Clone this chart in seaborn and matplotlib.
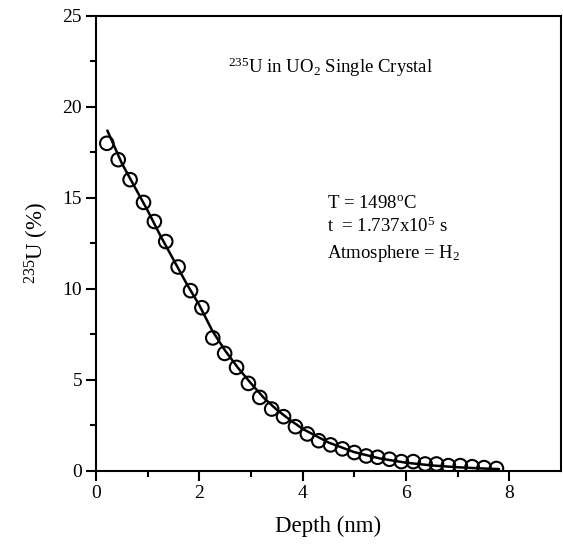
import numpy as np
import pandas as pd
import matplotlib
matplotlib.use("Agg")
import matplotlib.pyplot as plt
import seaborn as sns

# DATA

depth = [0.21, 0.43, 0.66, 0.92, 1.13, 1.35, 1.59, 1.83, 2.05, 2.26,
         2.49, 2.72, 2.95, 3.17, 3.40, 3.63, 3.86, 4.09, 4.31, 4.54,
         4.77, 5.00, 5.23, 5.45, 5.68, 5.91, 6.14, 6.37, 6.59, 6.82,
         7.05, 7.28, 7.51, 7.75]
u235 = [18.0, 17.1, 16.0, 14.75, 13.7, 12.6, 11.2, 9.9, 8.96, 7.3,
        6.45, 5.68, 4.8, 4.03, 3.39, 2.97, 2.42, 2.02, 1.65, 1.42,
        1.2, 1.0, 0.81, 0.74, 0.63, 0.5, 0.5, 0.37, 0.37, 0.28,
        0.28, 0.22, 0.17, 0.12]

fit_depth = [0.22, 0.5, 0.75, 1.0, 1.25, 1.5, 1.75, 2.0, 2.25, 2.5,
             2.75, 3.0, 3.25, 3.5, 3.75, 4.0, 4.5, 5.0, 5.5, 6.0,
             6.5, 7.0, 7.5, 7.8]
fit_u235 = [18.7, 16.9, 15.6, 14.3, 12.9, 11.6, 10.3, 9.1, 7.7, 6.6,
            5.65, 4.8, 4.0, 3.35, 2.8, 2.3, 1.55, 1.02, 0.67, 0.44,
            0.29, 0.19, 0.12, 0.09]

df = pd.DataFrame({"depth": depth, "u235": u235})
fit = pd.DataFrame({"depth": fit_depth, "u235": fit_u235})

# STYLE

sns.set_style("ticks")
plt.rcParams["font.family"] = ["Liberation Serif", "DejaVu Serif"]
plt.rcParams["mathtext.fontset"] = "custom"
plt.rcParams["mathtext.rm"] = "Liberation Serif"
plt.rcParams["mathtext.it"] = "Liberation Serif:italic"
plt.rcParams["mathtext.bf"] = "Liberation Serif:bold"
plt.rcParams["text.color"] = "black"
plt.rcParams["axes.labelcolor"] = "black"
plt.rcParams["xtick.color"] = "black"
plt.rcParams["ytick.color"] = "black"

fig = plt.figure(figsize=(5.63, 5.49), dpi=100)
ax = fig.add_axes([0.1705, 0.1426, 0.826, 0.8283])

sns.lineplot(data=fit, x="depth", y="u235", color="black", linewidth=1.8,
             ax=ax, zorder=2)
sns.scatterplot(data=df, x="depth", y="u235", marker="o", s=95,
                facecolor="none", edgecolor="black", linewidth=1.5,
                ax=ax, zorder=3)

ax.set_xlim(0, 9)
ax.set_ylim(0, 25)
ax.set_xticks([0, 2, 4, 6, 8])
ax.set_xticks([1, 3, 5, 7], minor=True)
ax.set_yticks([0, 5, 10, 15, 20, 25])
ax.set_yticks([2.5, 7.5, 12.5, 17.5, 22.5], minor=True)

for side in ["left", "right", "top", "bottom"]:
    ax.spines[side].set_visible(True)
    ax.spines[side].set_linewidth(1.5)
    ax.spines[side].set_color("black")

ax.tick_params(which="major", direction="out", length=7, width=1.5,
               labelsize=14, pad=3, colors="black", labelcolor="black")
ax.tick_params(which="minor", direction="out", length=4, width=1.5,
               colors="black")

ax.set_xlabel("Depth (nm)", fontsize=16.5, labelpad=10, color="black")
ax.set_ylabel(r"$^{235}$U (%)", fontsize=16.5, labelpad=8, color="black")

# ANNOTATIONS

ax.text(2.56, 22.2, r"$^{235}$U in UO$_2$ Single Crystal", fontsize=13.5,
        va="center", ha="left", color="black")
ax.text(4.48, 14.7, r"T = 1498$^{\rm o}$C", fontsize=13.5, va="center",
        color="black")
ax.text(4.48, 13.45, r"t  = 1.737x10$^{5}$ s", fontsize=13.5, va="center",
        color="black")
ax.text(4.48, 11.95, r"Atmosphere = H$_2$", fontsize=13.5, va="center",
        color="black")

fig.savefig("out.png", dpi=100)
